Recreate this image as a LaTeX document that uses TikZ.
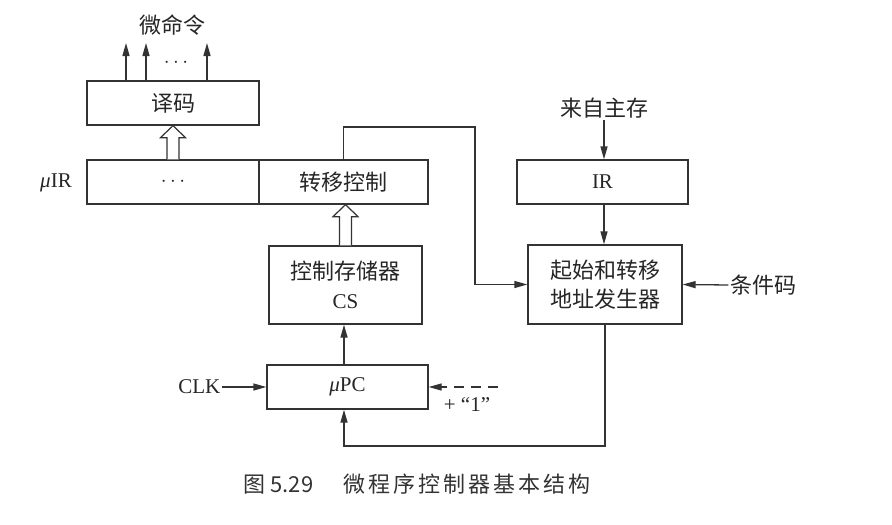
\documentclass[tikz,border=0pt]{standalone}
\usepackage{fontspec}
\setmainfont{Liberation Serif}
\newfontfamily\cjk{Noto Sans CJK SC}
\usetikzlibrary{arrows.meta,calc}
\newcommand\latsz{\fontsize{21}{29}\selectfont}
\newcommand\cjksz{\cjk\fontsize{22}{29}\selectfont}
\newcommand\hollowup[2]{%
  \draw[hollow] ($(#1.north)+(-6,0)$) -- ($(#1.north |- #2.south)+(-6,12)$)
    -- ($(#1.north |- #2.south)+(-12.5,12)$) -- (#1.north |- #2.south)
    -- ($(#1.north |- #2.south)+(12.5,12)$) -- ($(#1.north |- #2.south)+(6,12)$)
    -- ($(#1.north)+(6,0)$);}
\begin{document}
\begin{tikzpicture}[x=1pt,y=-1pt, line width=1.3pt, draw=black!80, text=black!85,
  box/.style={draw, inner sep=0pt, align=center, font=\latsz},
  lbl/.style={inner sep=1pt, font=\latsz},
  arr/.style={-{Triangle[length=13pt,width=7pt]}},
  hollow/.style={line width=1.2pt, fill=white}]
\useasboundingbox[fill=white] (0,0) rectangle (892,525);
% boxes
\node[box, minimum width=172pt, minimum height=44pt] (dec) at (173,103) {\cjksz 译码};
\node[box, minimum width=172pt, minimum height=44pt] (uira) at (173,182) {$\cdots$};
\node[box, minimum width=169pt, minimum height=44pt] (uirb) at (343.5,182) {\cjksz 转移控制};
\node[box, minimum width=153pt, minimum height=78pt] (cs) at (345.5,285) {{\cjksz 控制存储器}\\CS};
\node[box, minimum width=161pt, minimum height=44pt] (upc) at (347.5,387) {\textit{μ}PC};
\node[box, minimum width=171pt, minimum height=44pt] (ir) at (602.5,182) {IR};
\node[box, minimum width=154pt, minimum height=79pt, font=\cjksz] (gen) at (605,284.5) {起始和转移\\地址发生器};
% labels
\node[lbl] (mc) at (172,25) {\cjksz 微命令};
\node[lbl] (dots) at (176,63) {$\cdots$};
\node[lbl] (uirl) at (56,183) {\textit{μ}IR};
\node[lbl] (src) at (604,108) {\cjksz 来自主存};
\node[lbl] (cond) at (763,285) {\cjksz 条件码};
\node[lbl, anchor=east] (clk) at (222,387) {CLK};
\node[lbl] (one) at (467,405) {+ “1”};
\node[inner sep=0pt, text=black!80] (cap) at (417,484) {\cjk\fontsize{22}{26}\selectfont 图 5.29\hspace{30pt}微\kern3pt 程\kern3pt 序\kern3pt 控\kern3pt 制\kern3pt 器\kern3pt 基\kern3pt 本\kern3pt 结\kern3pt 构};
% coordinates
\coordinate (m1) at (126,43);
\coordinate (m2) at (146,43);
\coordinate (m3) at (207,43);
\coordinate (tr) at (475,127);
\coordinate (bl) at (344,446);
\coordinate (d1) at (498,387);
% connectors
\draw[arr] (dec.north -| m1) -- (m1);
\draw[arr] (dec.north -| m2) -- (m2);
\draw[arr] (dec.north -| m3) -- (m3);
\hollowup{uira}{dec}
\hollowup{cs}{uirb}
\draw[arr] (uirb.north) |- (tr) |- (gen.west);
\draw[arr] (src.south) -- (src.south |- ir.north);
\draw[arr] (ir.south -| src.south) -- (src.south |- gen.north);
\draw[arr] (cond.west) -- (gen.east);
\draw[arr] (upc.north -| bl) -- (bl |- cs.south);
\draw[arr] (clk.east) -- (upc.west);
\draw[arr, dash pattern=on 10pt off 7pt] (d1) -- (upc.east);
\draw[arr] (gen.south) |- (bl) -- (bl |- upc.south);
\end{tikzpicture}
\end{document}
